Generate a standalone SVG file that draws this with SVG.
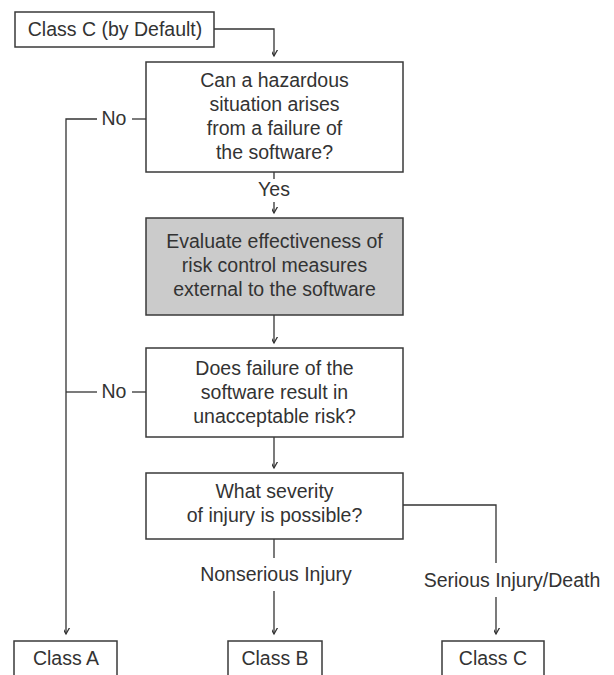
<svg xmlns="http://www.w3.org/2000/svg" width="614" height="675" viewBox="0 0 614 675">
<defs>
<marker id="arr" markerUnits="userSpaceOnUse" markerWidth="12" markerHeight="12" viewBox="-6 -10 12 12" refX="0" refY="0" orient="auto-start-reverse">
<path d="M-8,-4.5 L0,0 L-8,4.5" fill="none" stroke="#333" stroke-width="1.3" transform="rotate(0)"/>
</marker>
<style>
.box{fill:#fff;stroke:#3a3a3a;stroke-width:1.5}
.gray{fill:#cbcbcb;stroke:#3a3a3a;stroke-width:1.5}
.ln{fill:none;stroke:#333;stroke-width:1.3}
text{font-family:"Liberation Sans",Arial,sans-serif;font-size:19.5px;fill:#333;text-anchor:middle}
</style>
</defs>
<rect width="614" height="675" fill="#fff"/>
<g id="connectors">
<path class="ln" d="M214,29 H274 V56" marker-end="url(#arr)"/>
<path class="ln" d="M274,172 V179"/>
<path class="ln" d="M274,202 V213" marker-end="url(#arr)"/>
<path class="ln" d="M274,315 V343" marker-end="url(#arr)"/>
<path class="ln" d="M274,437 V468" marker-end="url(#arr)"/>
<path class="ln" d="M146,119 H132"/>
<path class="ln" d="M97,119 H66 V634" marker-end="url(#arr)"/>
<path class="ln" d="M146,392 H132"/>
<path class="ln" d="M97,392 H66"/>
<path class="ln" d="M274,539 V558"/>
<path class="ln" d="M274,591 V634" marker-end="url(#arr)"/>
<path class="ln" d="M403,505 H496 V563"/>
<path class="ln" d="M496,597 V634" marker-end="url(#arr)"/>
<text x="114" y="125">No</text>
<text x="114" y="398">No</text>
<text x="274" y="196">Yes</text>
<text x="276" y="581">Nonserious Injury</text>
<text x="512" y="587">Serious Injury/Death</text>
</g>
<g id="default">
<rect class="box" x="15" y="12" width="199" height="35"/>
<text x="115" y="36">Class C (by Default)</text>
</g>
<g id="q1">
<rect class="box" x="146" y="62" width="257" height="110"/>
<text x="274.5" y="87">Can a hazardous</text>
<text x="274.5" y="111">situation arises</text>
<text x="274.5" y="135">from a failure of</text>
<text x="274.5" y="159">the software?</text>
</g>
<g id="evaluate">
<rect class="gray" x="146" y="218" width="257" height="97"/>
<text x="274.5" y="248">Evaluate effectiveness of</text>
<text x="274.5" y="272">risk control measures</text>
<text x="274.5" y="296">external to the software</text>
</g>
<g id="q2">
<rect class="box" x="146" y="348" width="257" height="89"/>
<text x="274.5" y="375">Does failure of the</text>
<text x="274.5" y="399">software result in</text>
<text x="274.5" y="423">unacceptable risk?</text>
</g>
<g id="q3">
<rect class="box" x="146" y="473" width="257" height="66"/>
<text x="274.5" y="498">What severity</text>
<text x="274.5" y="522">of injury is possible?</text>
</g>
<g id="classA">
<rect class="box" x="14" y="641" width="103" height="50"/>
<text x="66" y="665">Class A</text>
</g>
<g id="classB">
<rect class="box" x="228" y="641" width="94" height="50"/>
<text x="275" y="665">Class B</text>
</g>
<g id="classC">
<rect class="box" x="442" y="641" width="102" height="50"/>
<text x="493" y="665">Class C</text>
</g>
</svg>
